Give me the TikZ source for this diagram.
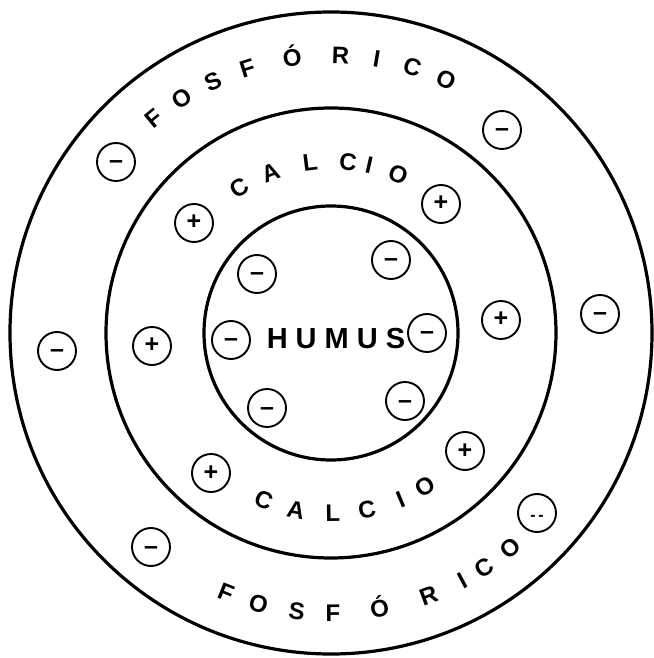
\documentclass[tikz,border=0pt]{standalone}
\usepackage{fontspec}
\setmainfont{Liberation Sans}

\begin{document}
\begin{tikzpicture}[
  x=1pt, y=1pt,
  ring/.style={draw, line width=3.2pt},
  charge/.style={draw, circle, line width=1.9pt, minimum size=38pt, inner sep=0pt,
    text height=14pt, text depth=0pt, font=\bfseries\fontsize{25}{25}\selectfont},
  lett/.style={inner sep=0pt, text height=17pt, text depth=0pt, font=\bfseries\fontsize{24}{24}\selectfont},
  core/.style={inner sep=0pt, font=\bfseries\fontsize{29}{29}\selectfont}
]
\useasboundingbox (-331,-325) rectangle (322,333);
\coordinate (c) at (0,0);

% the three layers
\draw[ring] (c) circle (321pt);
\draw[ring] (c) circle (225pt);
\draw[ring] (c) circle (127pt);

% outer layer, lettered round the top and the bottom
\foreach \l/\a [count=\i] in {F/129.5,O/122.5,S/115,F/107.5,Ó/98,R/88,I/80.5,C/73,O/65.5}
  \node[lett, rotate=\a-90] (fa\i) at (\a:278) {\l};
\foreach \l/\a [count=\i] in {F/248,O/255,S/263,F/270.4,Ó/280,R/290.4,I/298,C/303.2,O/309.8}
  \node[lett, rotate=\a+90] (fb\i) at (\a:280) {\l};

% middle layer
\foreach \l/\a [count=\i] in {C/122.3,A/110.6,L/97,C/84.3,I/77.1,O/67}
  \node[lett, rotate=\a-90] (ca\i) at (\a:172) {\l};
\foreach \l/\a [count=\i] in {C/248.1,A/258.8,L/270.6,C/281.5,I/292.7,O/301.4}
  \node[lett, rotate=\a+90] (cb\i) at (\a:180) {\l};

% core
\node[core] (humus) at (5,-6) {H\kern8pt U\kern8pt M\kern8pt U\kern8pt S};

% charges, outer layer
\node[charge] (fo1) at (-215,171) {–};
\node[charge] (fo2) at (171,203) {–};
\node[charge] (fo3) at (-274,-18) {–};
\node[charge] (fo4) at (269,19) {–};
\node[charge] (fo5) at (-180,-214) {–};
\node[charge] (fo6) at (206,-180) {\fontsize{16}{16}\selectfont -\,-};

% charges, middle layer
\node[charge] (ca1) at (-137,110) {+};
\node[charge] (ca2) at (110,129) {+};
\node[charge] (ca3) at (-179,-13) {+};
\node[charge] (ca4) at (170,13) {+};
\node[charge] (ca5) at (-120,-140) {+};
\node[charge] (ca6) at (134,-118) {+};

% charges, core
\node[charge] (hu1) at (-74,59) {–};
\node[charge] (hu2) at (60,73) {–};
\node[charge] (hu3) at (-100,-7) {–};
\node[charge] (hu4) at (96,0) {–};
\node[charge] (hu5) at (-64,-75) {–};
\node[charge] (hu6) at (74,-68) {–};
\end{tikzpicture}
\end{document}
